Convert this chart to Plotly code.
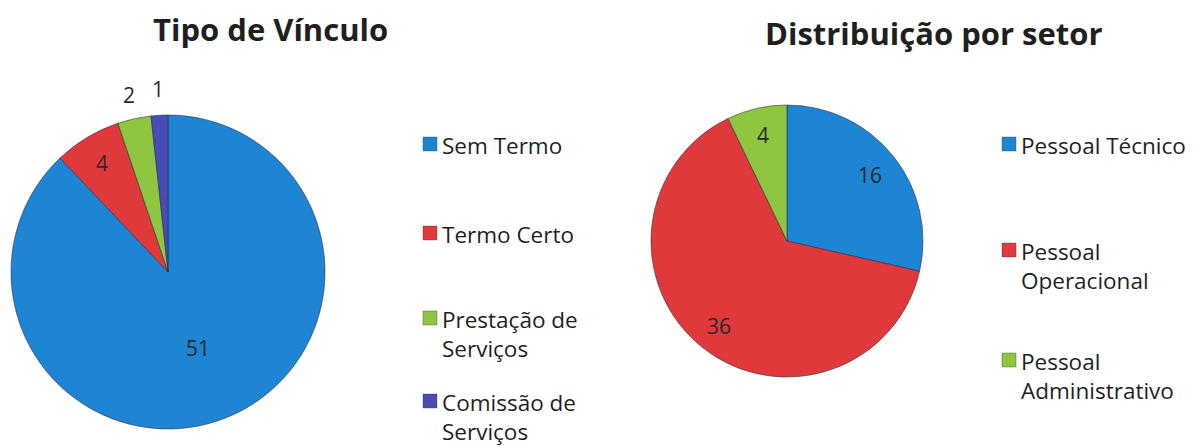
import math
import textwrap
import plotly.graph_objects as go

# ---------------- data ----------------
vinculo_title = "Tipo de Vínculo"
vinculo_labels = ["Sem Termo", "Termo Certo", "Prestação de Serviços", "Comissão de Serviços"]
vinculo_values = [51, 4, 2, 1]

setor_title = "Distribuição por setor"
setor_labels = ["Pessoal Técnico", "Pessoal Operacional", "Pessoal Administrativo"]
setor_values = [16, 36, 4]

# ---------------- styling ----------------
W, H = 1199, 447
FONT = "Open Sans"
TXT = "#1f1f1f"
vinculo_colors = ["#1E84D4", "#E0393B", "#8EC63F", "#4B4BB5"]
setor_colors = ["#1E84D4", "#E0393B", "#8EC63F"]


def fx(px):
    return px / W


def fy(py):
    return 1 - py / H


def domain_for(cx, cy, r):
    return dict(x=[fx(cx - r), fx(cx + r)], y=[fy(cy + r), fy(cy - r)])


annotations = []
shapes = []

LEFT = dict(cx=168, cy=272, r=157)
RIGHT = dict(cx=787, cy=241, r=136)


def add_pie(labels, values, colors, geo):
    fig.add_trace(go.Pie(
        labels=labels, values=values,
        sort=False, direction="clockwise", rotation=0,
        domain=domain_for(geo["cx"], geo["cy"], geo["r"]),
        textinfo="none",
        marker=dict(colors=colors, line=dict(color="rgba(40,40,60,0.55)", width=1)),
        showlegend=False, hoverinfo="label+value",
    ))


def add_value_labels(values, geo, radial):
    """Place each value at the middle angle of its slice (clockwise from 12 o'clock).
    radial < 2: fraction of the radius (inside); radial >= 2: px beyond the rim (outside)."""
    total = float(sum(values))
    cum = 0.0
    for v, f in zip(values, radial):
        mid = (cum + v / 2.0) / total * 2 * math.pi
        cum += v
        d = geo["r"] + f if f >= 2 else f * geo["r"]
        x = geo["cx"] + d * math.sin(mid)
        y = geo["cy"] - d * math.cos(mid)
        annotations.append(dict(
            text=str(v), x=fx(x), y=fy(y), xref="paper", yref="paper",
            xanchor="center", yanchor="middle", showarrow=False,
            font=dict(family=FONT, size=21, color="#2a2a2a")))


fig = go.Figure()
add_pie(vinculo_labels, vinculo_values, vinculo_colors, LEFT)
add_pie(setor_labels, setor_values, setor_colors, RIGHT)

add_value_labels(vinculo_values, LEFT, [0.52, 0.81, 24, 26])
add_value_labels(setor_values, RIGHT, [0.78, 0.8, 0.8])

annotations.append(dict(
    text="<b>%s</b>" % vinculo_title, x=fx(270), y=fy(29), xref="paper", yref="paper",
    xanchor="center", yanchor="middle", showarrow=False,
    font=dict(family=FONT, size=31, color=TXT)))
annotations.append(dict(
    text="<b>%s</b>" % setor_title, x=fx(934), y=fy(33), xref="paper", yref="paper",
    xanchor="center", yanchor="middle", showarrow=False,
    font=dict(family=FONT, size=31, color=TXT)))

LEG_SIZE = 22.5


def add_legend(labels, colors, marker_x, text_x, first_line_ys, wrap_width):
    for lab, col, yc in zip(labels, colors, first_line_ys):
        txt = "<br>".join(textwrap.wrap(lab, wrap_width))
        annotations.append(dict(
            text=txt, x=fx(text_x), y=fy(yc - LEG_SIZE * 0.65 - 1), xref="paper", yref="paper",
            xanchor="left", yanchor="top", align="left", showarrow=False,
            font=dict(family=FONT, size=LEG_SIZE, color=TXT)))
        s = 14
        shapes.append(dict(
            type="rect", xref="paper", yref="paper",
            x0=fx(marker_x), x1=fx(marker_x + s), y0=fy(yc + s / 2), y1=fy(yc - s / 2),
            fillcolor=col, line=dict(color="rgba(60,60,60,0.6)", width=0.6)))


add_legend(vinculo_labels, vinculo_colors, 423, 440, [144, 233, 318, 401], 12)
add_legend(setor_labels, setor_colors, 1002, 1019, [144, 250, 360], 15)

fig.update_layout(
    width=W, height=H,
    margin=dict(l=0, r=0, t=0, b=0),
    paper_bgcolor="white", plot_bgcolor="white",
    annotations=annotations, shapes=shapes,
    font=dict(family=FONT, color=TXT),
)

fig.write_html("out.html", config={"displayModeBar": False},
               post_script="document.body.style.margin='0';")
